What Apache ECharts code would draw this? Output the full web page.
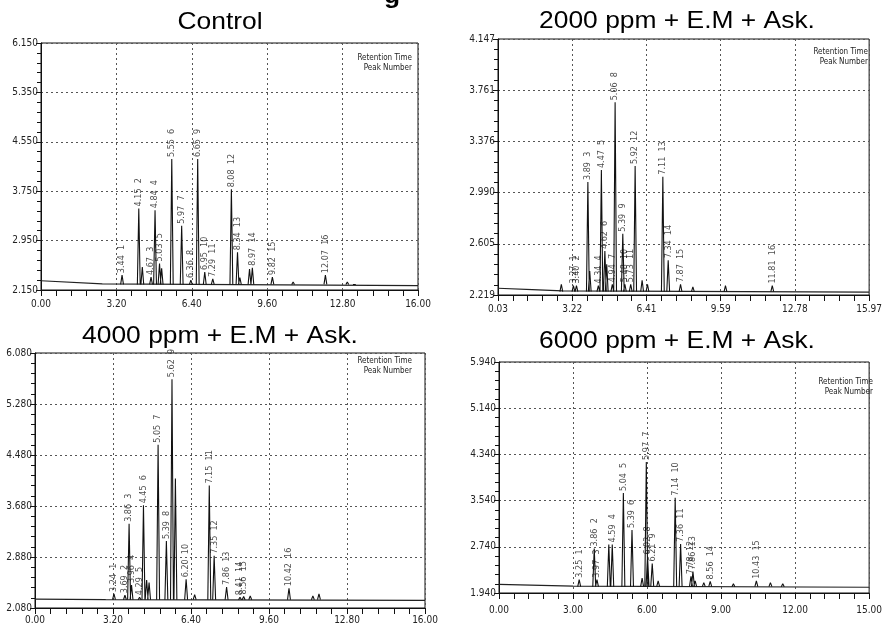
<!DOCTYPE html>
<html>
<head>
<meta charset="utf-8">
<script src="https://cdn.jsdelivr.net/npm/echarts@6/dist/echarts.min.js"></script>
<style>
html,body{margin:0;padding:0;background:#fff;}
#chart{width:885px;height:625px;}
</style>
</head>
<body>
<div id="chart"></div>
<script>
// ---------- Titles ----------
const TITLES = ['Control', '2000 ppm + E.M + Ask.', '4000 ppm + E.M + Ask.', '6000 ppm + E.M + Ask.'];
const LEGEND_LINES = ['Retention Time', 'Peak Number'];

// ---------- Axis ranges (tick labels) ----------
const P1_X = [0.00, 16.00, 3.20];   // min, max, step
const P1_Y = [2.150, 6.150, 0.800];
const P2_X = [0.03, 15.97, 3.188];
const P2_Y = [2.219, 4.147, 0.3856];
const P3_X = [0.00, 16.00, 3.20];
const P3_Y = [2.080, 6.080, 0.800];
const P4_X = [0.00, 15.00, 3.00];
const P4_Y = [1.940, 5.940, 0.800];

// ---------- Control ----------
const P1_RT = [3.44, 4.15, 4.67, 4.84, 5.03, 5.55, 5.97, 6.36, 6.65, 6.95, 7.29, 8.08, 8.34, 8.97, 9.82, 12.07];
const P1_H  = [2.39, 3.47, 2.36, 3.44, 2.58, 4.27, 3.19, 2.31, 4.27, 2.44, 2.33, 3.78, 2.76, 2.51, 2.36, 2.39];
const P1_EXTRA_RT = [4.30, 5.12, 8.44, 8.85, 10.70, 13.00, 13.30];
const P1_EXTRA_H  = [2.52, 2.50, 2.35, 2.49, 2.28, 2.28, 2.27];
const P1_BASE_T = [0.00, 2.60, 16.00];
const P1_BASE_V = [2.30, 2.25, 2.22];
const P1_BASE = 2.24;

// ---------- 2000 ppm ----------
const P2_RT = [3.27, 3.40, 3.89, 4.34, 4.47, 4.62, 4.94, 5.06, 5.39, 5.48, 5.73, 5.92, 7.11, 7.34, 7.87, 11.81];
const P2_H  = [2.29, 2.29, 3.07, 2.29, 3.16, 2.55, 2.30, 3.67, 2.68, 2.30, 2.30, 3.19, 3.11, 2.48, 2.30, 2.29];
const P2_EXTRA_RT = [2.75, 3.97, 4.70, 6.22, 6.45, 8.40, 9.80];
const P2_EXTRA_H  = [2.30, 2.40, 2.45, 2.33, 2.30, 2.28, 2.29];
const P2_BASE_T = [0.03, 1.50, 2.80, 15.97];
const P2_BASE_V = [2.27, 2.26, 2.25, 2.24];
const P2_BASE = 2.245;

// ---------- 4000 ppm ----------
const P3_RT = [3.24, 3.69, 3.86, 3.96, 4.29, 4.45, 5.05, 5.39, 5.62, 6.20, 7.15, 7.35, 7.86, 8.41, 8.56, 10.42];
const P3_H  = [2.30, 2.28, 3.40, 2.44, 2.25, 3.69, 4.64, 3.13, 5.67, 2.53, 4.00, 2.90, 2.41, 2.25, 2.26, 2.39];
const P3_EXTRA_RT = [4.58, 4.68, 5.76, 6.55, 8.83, 11.40, 11.65];
const P3_EXTRA_H  = [2.52, 2.48, 4.11, 2.29, 2.27, 2.27, 2.30];
const P3_BASE_T = [0.00, 2.90, 16.00];
const P3_BASE_V = [2.22, 2.21, 2.20];
const P3_BASE = 2.21;

// ---------- 6000 ppm ----------
const P4_RT = [3.25, 3.86, 3.97, 4.59, 5.04, 5.39, 5.97, 6.02, 6.21, 7.14, 7.36, 7.78, 7.86, 8.56, 10.43];
const P4_H  = [2.17, 2.71, 2.17, 2.78, 3.67, 3.03, 4.21, 2.57, 2.45, 3.59, 2.79, 2.23, 2.31, 2.14, 2.15];
const P4_EXTRA_RT = [4.45, 5.80, 6.45, 7.95, 8.30, 9.50, 11.00, 11.50];
const P4_EXTRA_H  = [2.78, 2.20, 2.15, 2.15, 2.12, 2.10, 2.12, 2.10];
const P4_BASE_T = [0.00, 3.00, 15.00];
const P4_BASE_V = [2.09, 2.06, 2.04];
const P4_BASE = 2.05;

// ---------- layout / style ----------
const HALF_W = 0.06;
const GRIDS = [
  {left: 41,  top: 43,  width: 377, height: 247},
  {left: 498, top: 39,  width: 377, height: 256},
  {left: 35,  top: 353, width: 390, height: 256},
  {left: 499, top: 362, width: 378, height: 231}
];
const TITLE_POS = [[220, 22], [677, 21], [220, 336.5], [677, 341.5]];
const LEGEND_POS = [[412, 58], [868, 52], [412, 361], [873, 382]];
const X_LABEL_MARGIN = [9, 9, 7, 12];
const SMALL_FONT = "'Liberation Sans Narrow','DejaVu Sans Condensed',Arial,sans-serif";
const INK = '#111';

const PANELS = [
  {x: P1_X, y: P1_Y, rt: P1_RT, h: P1_H, ert: P1_EXTRA_RT, eh: P1_EXTRA_H, bt: P1_BASE_T, bv: P1_BASE_V, base: P1_BASE},
  {x: P2_X, y: P2_Y, rt: P2_RT, h: P2_H, ert: P2_EXTRA_RT, eh: P2_EXTRA_H, bt: P2_BASE_T, bv: P2_BASE_V, base: P2_BASE},
  {x: P3_X, y: P3_Y, rt: P3_RT, h: P3_H, ert: P3_EXTRA_RT, eh: P3_EXTRA_H, bt: P3_BASE_T, bv: P3_BASE_V, base: P3_BASE},
  {x: P4_X, y: P4_Y, rt: P4_RT, h: P4_H, ert: P4_EXTRA_RT, eh: P4_EXTRA_H, bt: P4_BASE_T, bv: P4_BASE_V, base: P4_BASE}
];

const grid = [], xAxis = [], yAxis = [], series = [], graphic = [];

PANELS.forEach((p, i) => {
  grid.push(Object.assign({show: true, borderColor: INK, borderWidth: 1, backgroundColor: 'transparent'}, GRIDS[i]));
  const splitLine = {show: true, lineStyle: {color: '#555', width: 1, type: [2, 3]}};
  xAxis.push({
    type: 'value', gridIndex: i, min: p.x[0], max: p.x[1], interval: p.x[2],
    axisLine: {show: true, onZero: false, lineStyle: {color: INK, width: 1}},
    axisTick: {show: true, inside: false, length: 6, lineStyle: {color: INK}},
    minorTick: {show: true, splitNumber: 5, length: 6, lineStyle: {color: INK}},
    splitLine: splitLine,
    axisLabel: {show: true, margin: X_LABEL_MARGIN[i], color: '#222', fontSize: 10, fontFamily: SMALL_FONT,
      formatter: v => v.toFixed(2)}
  });
  yAxis.push({
    type: 'value', gridIndex: i, min: p.y[0], max: p.y[1], interval: p.y[2],
    axisLine: {show: true, onZero: false, lineStyle: {color: INK, width: 1}},
    axisTick: {show: true, inside: false, length: 5, lineStyle: {color: INK}},
    minorTick: {show: true, splitNumber: 5, length: 4, lineStyle: {color: INK}},
    splitLine: splitLine,
    axisLabel: {show: true, margin: 3, color: '#222', fontSize: 10, fontFamily: SMALL_FONT,
      formatter: v => v.toFixed(3)}
  });

  // baseline
  series.push({
    type: 'line', xAxisIndex: i, yAxisIndex: i, symbol: 'none', silent: true, animation: false,
    lineStyle: {color: '#222', width: 1.2},
    data: p.bt.map((t, k) => [t, p.bv[k]])
  });
  // peaks (labelled + unlabelled), each a separate segment
  const peakData = [];
  const allRt = p.rt.concat(p.ert), allH = p.h.concat(p.eh);
  allRt.forEach((t, k) => {
    peakData.push([t - HALF_W, p.base], [t, allH[k]], [t + HALF_W, p.base], [t + HALF_W, null]);
  });
  series.push({
    type: 'line', xAxisIndex: i, yAxisIndex: i, symbol: 'none', silent: true, animation: false,
    connectNulls: false, lineStyle: {color: '#111', width: 1.1},
    data: peakData
  });
  // peak labels
  series.push({
    type: 'scatter', xAxisIndex: i, yAxisIndex: i, symbolSize: 0, silent: true, animation: false,
    data: p.rt.map((t, k) => [t, p.h[k], t.toFixed(2) + '  ' + (k + 1)]),
    label: {show: true, position: 'top', distance: 2, rotate: 90, align: 'left', verticalAlign: 'middle',
      fontSize: 9, color: '#1a1a1a', fontFamily: SMALL_FONT, formatter: q => q.data[2]}
  });

  graphic.push({
    type: 'text', x: TITLE_POS[i][0], y: TITLE_POS[i][1], scaleX: 1.1,
    style: {text: TITLES[i], font: '24px "Liberation Sans", Arial, sans-serif', fill: '#000',
      textAlign: 'center', textVerticalAlign: 'middle'}
  });
  LEGEND_LINES.forEach((s, k) => {
    graphic.push({
      type: 'text', x: LEGEND_POS[i][0], y: LEGEND_POS[i][1] + k * 9.5,
      style: {text: s, font: '8px ' + SMALL_FONT, fill: '#222', textAlign: 'right', textVerticalAlign: 'middle'}
    });
  });
});

// cut-off heading fragment at the very top
graphic.push({
  type: 'text', x: 392, y: -4, scaleX: 1.1,
  style: {text: 'g', font: 'bold 24px "Liberation Sans", Arial, sans-serif', fill: '#000',
    textAlign: 'center', textVerticalAlign: 'middle'}
});

const chart = echarts.init(document.getElementById('chart'), null, {renderer: 'canvas'});
chart.setOption({
  animation: false,
  backgroundColor: '#fff',
  grid: grid, xAxis: xAxis, yAxis: yAxis, series: series, graphic: graphic
});
</script>
</body>
</html>
